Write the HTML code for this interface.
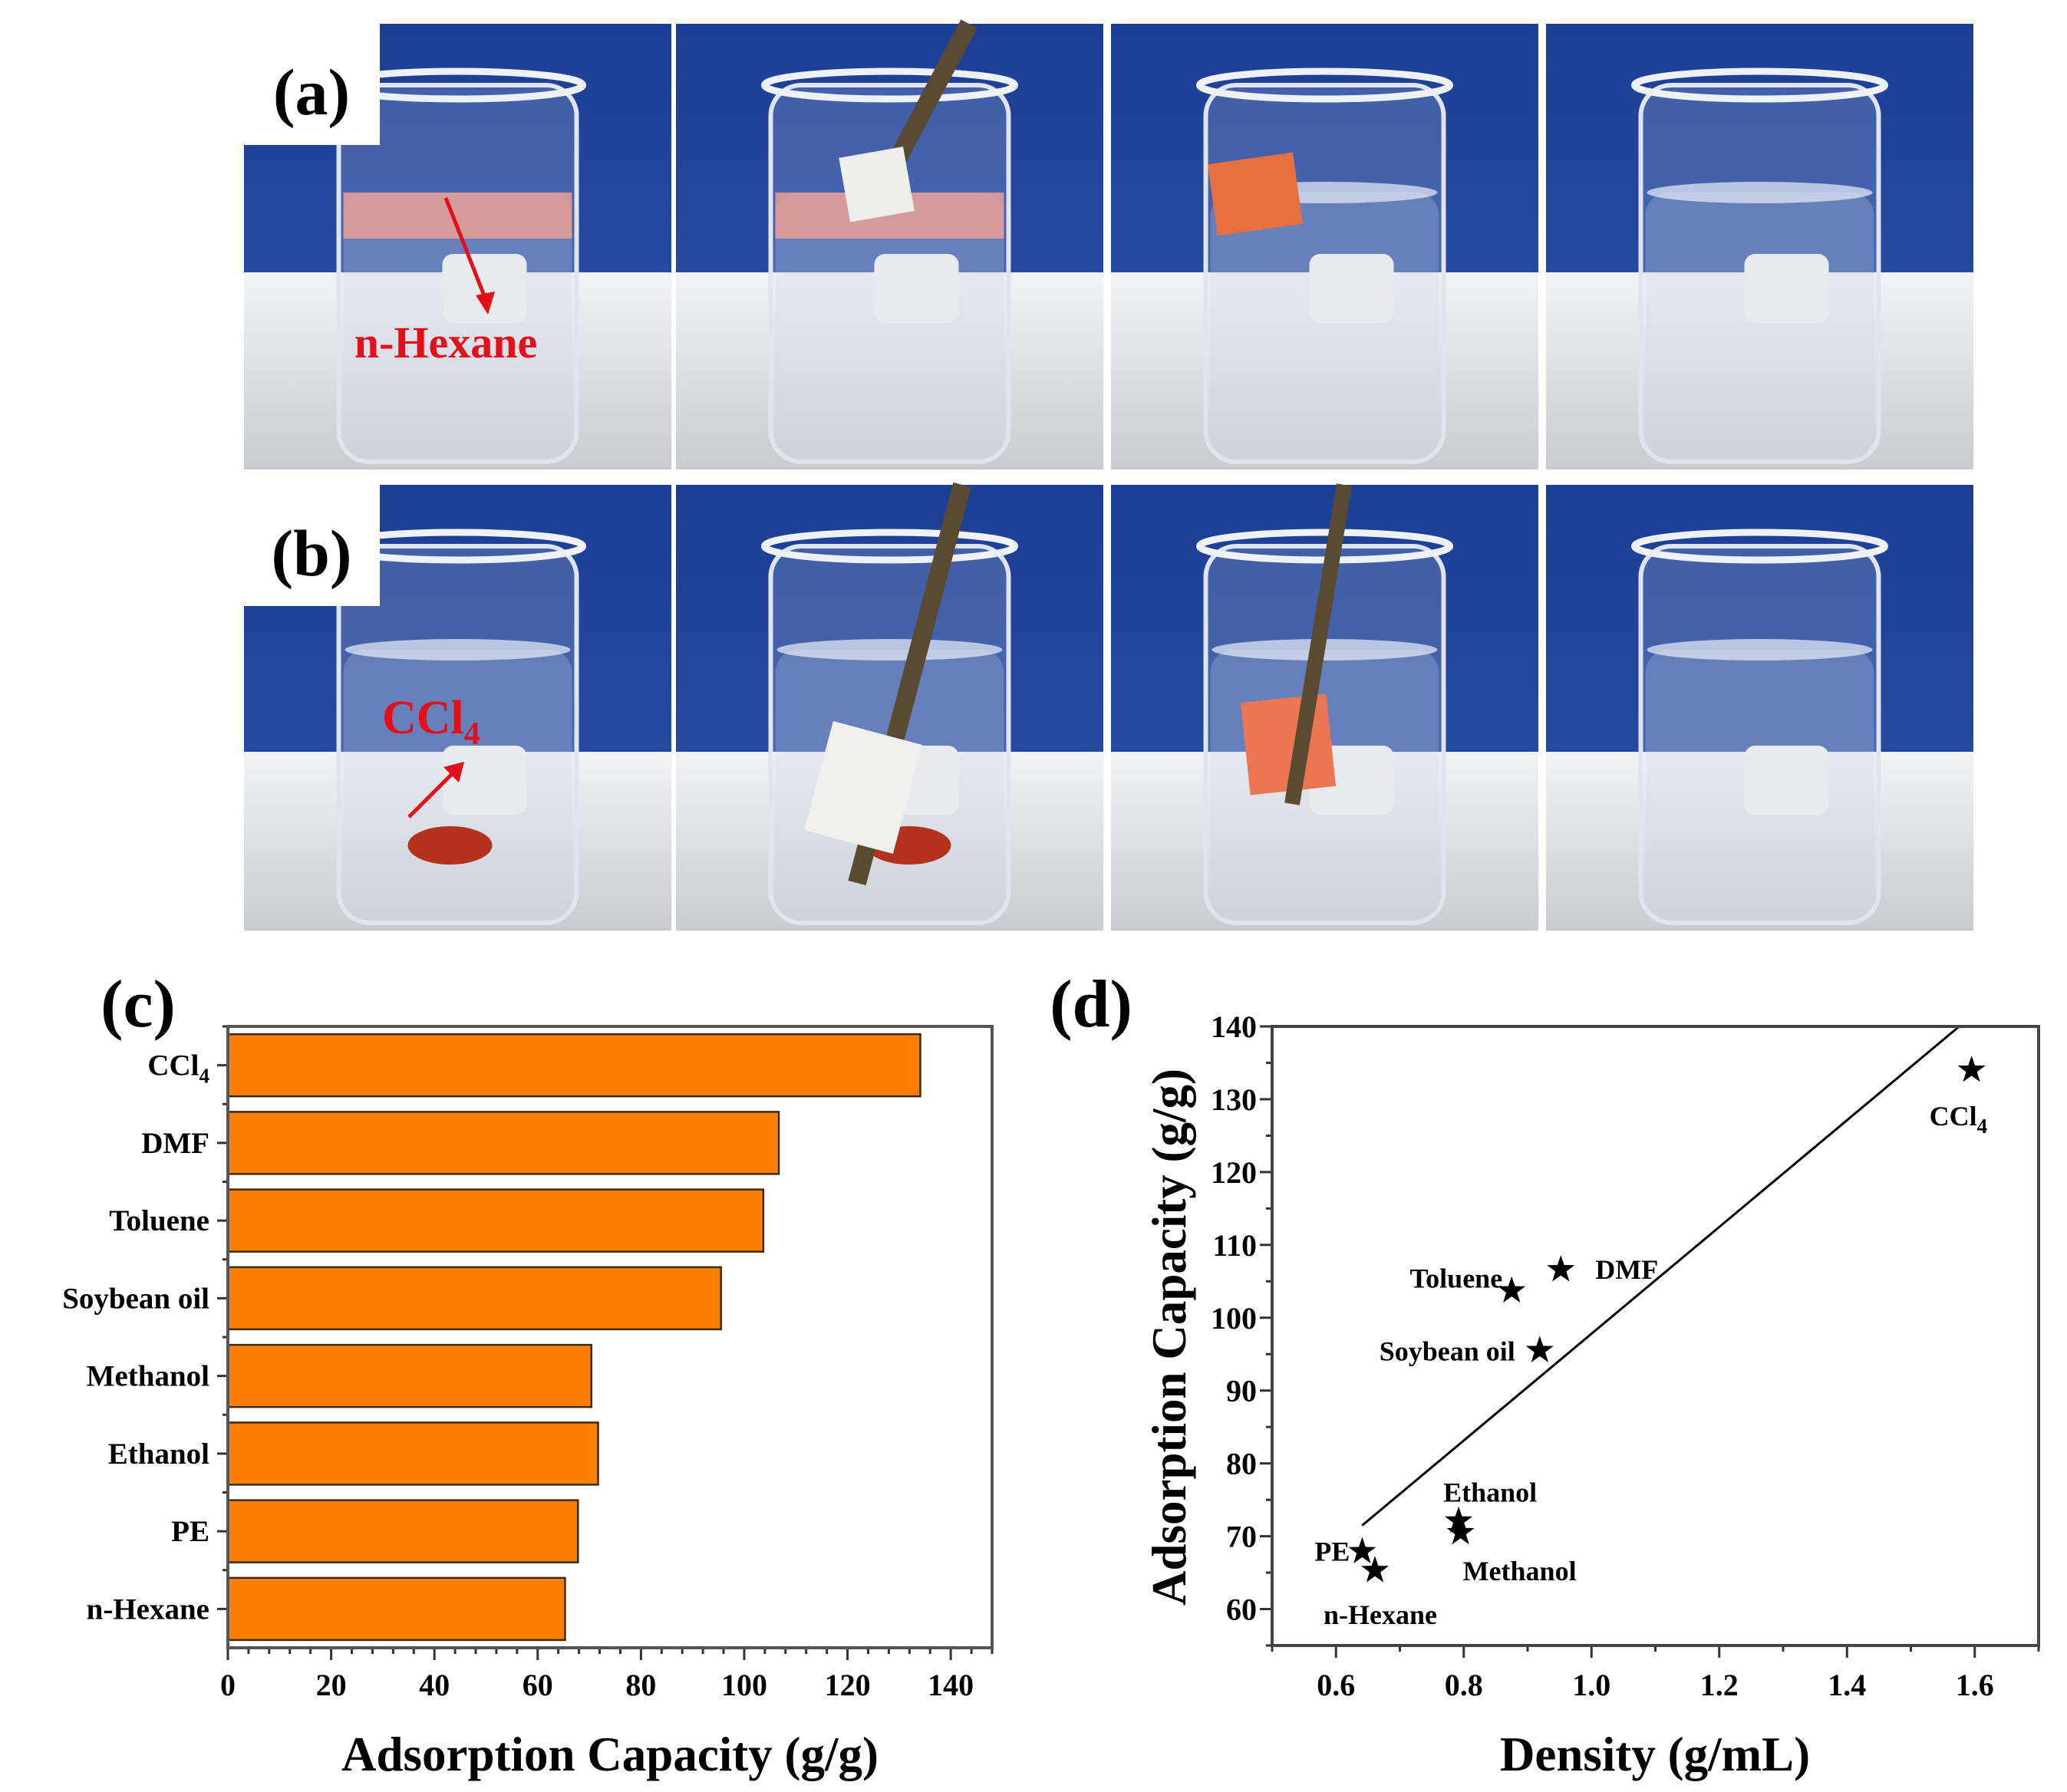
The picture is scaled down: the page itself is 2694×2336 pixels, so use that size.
<!DOCTYPE html>
<html><head><meta charset="utf-8"><style>
html,body{margin:0;padding:0;background:#fff;}
svg{display:block;font-family:"Liberation Serif",serif;}
</style></head><body>
<svg id="fig" width="2694" height="2336" viewBox="0 0 2694 2336" xmlns="http://www.w3.org/2000/svg">
<defs>
<linearGradient id="blueA" x1="0" y1="0" x2="0" y2="1"><stop offset="0" stop-color="#1c3f95"/><stop offset="1" stop-color="#25499e"/></linearGradient>
<linearGradient id="tableA" x1="0" y1="0" x2="0" y2="1"><stop offset="0" stop-color="#f2f3f5"/><stop offset="1" stop-color="#c9cbd0"/></linearGradient>
</defs>
<g id="photos"></g>
<g id="chartC"></g>
<g id="chartD"></g>
</svg>
<script>
// ---- chart (c) data ----
const barCategories = ["CCl4","DMF","Toluene","Soybean oil","Methanol","Ethanol","PE","n-Hexane"];
const barValues = [134.1, 106.7, 103.7, 95.5, 70.4, 71.7, 67.8, 65.3];
const barTicks = [0,20,40,60,80,100,120,140];
// ---- chart (d) data ----
const ptNames = ["CCl4","DMF","Toluene","Soybean oil","Ethanol","Methanol","PE","n-Hexane"];
const ptDensity = [1.595, 0.952, 0.875, 0.919, 0.792, 0.795, 0.641, 0.661];
const ptCapacity = [134.0, 106.6, 103.7, 95.5, 72.1, 70.5, 67.9, 65.3];
const fitX = [0.641, 1.575];
const fitSlope = 73.3;
const fitIntercept = 24.5;
const dXTicks = [0.6,0.8,1.0,1.2,1.4,1.6];
const dYTicks = [60,70,80,90,100,110,120,130,140];

const NS="http://www.w3.org/2000/svg";
function mk(parent,tag,attrs,text){const e=document.createElementNS(NS,tag);for(const k in attrs)e.setAttribute(k,attrs[k]);if(text!==undefined)e.textContent=text;parent.appendChild(e);return e;}

// ---------- photos ----------
const photos=document.getElementById('photos');
const colX=[318,881,1448,2015], colW=557;
const rows=[{y:31,h:581,split:355,label:"(a)"},{y:632,h:581,split:980,label:"(b)"}];
rows.forEach((r,ri)=>{
  colX.forEach((x,ci)=>{
    const g=mk(photos,'g',{});
    
    
    mk(g,'rect',{x:x,y:r.y,width:colW,height:r.split-r.y,fill:'url(#blueA)'});
    mk(g,'rect',{x:x,y:r.split,width:colW,height:r.y+r.h-r.split,fill:'url(#tableA)'});
    const cx=x+colW/2, bt=r.y+80, bb=r.y+r.h-10, bw=310;
    mk(g,'rect',{x:cx-bw/2,y:bt,width:bw,height:bb-bt,rx:40,fill:'rgba(225,232,245,0.18)',stroke:'#dfe4ee','stroke-width':6});
    mk(g,'ellipse',{cx:cx,cy:bt,rx:bw/2+8,ry:18,fill:'none',stroke:'#eef1f6','stroke-width':9});
    const ly=ri?r.y+215:r.y+220;
    const pinkTop=(ri===0&&ci<2);
    mk(g,'rect',{x:cx-bw/2+6,y:ly,width:bw-12,height:bb-ly-6,rx:30,fill:'rgba(200,210,230,0.25)'});
    if(pinkTop) mk(g,'rect',{x:cx-bw/2+6,y:ly,width:bw-12,height:60,fill:'rgba(235,160,150,0.85)'});
    else mk(g,'ellipse',{cx:cx,cy:ly,rx:bw/2-8,ry:14,fill:'rgba(235,240,248,0.7)'});
    mk(g,'rect',{x:cx-20,y:r.y+(ri?340:300),width:110,height:90,rx:14,fill:'#e8eaee'});
    if(ri===1&&ci<2) mk(g,'ellipse',{cx:cx-(ci?15:50)+40,cy:r.y+470,rx:55,ry:25,fill:'#b2321c'});
  });
  const lb=mk(photos,'g',{});
  
  
  mk(lb,'rect',{x:318,y:r.y,width:177,height:158,fill:'#fff'});
  mk(lb,'text',{x:406,y:r.y+118,'font-size':86,'font-weight':'bold','text-anchor':'middle',fill:'#000'},r.label);
});
mk(photos,'line',{x1:1263,y1:31,x2:1134,y2:275,stroke:'#5a4a32','stroke-width':24});
mk(photos,'rect',{x:1100,y:198,width:85,height:85,fill:'#eeeeea',transform:'rotate(-10 1142 240)'});
mk(photos,'rect',{x:1580,y:206,width:112,height:94,fill:'#e8703f',transform:'rotate(-8 1636 253)'});
mk(photos,'line',{x1:1254,y1:632,x2:1117,y2:1151,stroke:'#5a4a32','stroke-width':24});
mk(photos,'rect',{x:1065,y:953,width:120,height:147,fill:'#f0f0ee',transform:'rotate(15 1125 1026)'});
mk(photos,'rect',{x:1623,y:910,width:112,height:121,fill:'#ec7552',transform:'rotate(-6 1679 970)'});
mk(photos,'line',{x1:1752,y1:632,x2:1684,y2:1048,stroke:'#5a4a32','stroke-width':20});
const nh=mk(photos,'text',{x:581,y:466,'font-size':58,'font-weight':'bold','text-anchor':'middle',fill:'#e3101a'},'n-Hexane');


mk(photos,'line',{x1:581,y1:258,x2:636,y2:398,stroke:'#e3101a','stroke-width':5});
mk(photos,'path',{d:'M636 410 L620 385 L645 380 Z',fill:'#e3101a'});
const cc=mk(photos,'text',{x:498,y:956,'font-size':62,'font-weight':'bold',fill:'#e3101a'});


cc.innerHTML='CCl<tspan font-size="42" dy="14">4</tspan>';
mk(photos,'line',{x1:533,y1:1065,x2:596,y2:1002,stroke:'#e3101a','stroke-width':5});
mk(photos,'path',{d:'M605 993 L578 1000 L598 1020 Z',fill:'#e3101a'});

// ---------- chart (c) ----------
(function(){
  const g=document.getElementById('chartC');
  const L=297,R=1293,T=1338,B=2148, xMax=148;
  const xs=v=>L+(v/xMax)*(R-L);
  const band=(B-T)/barCategories.length;
  const yc=i=>T+band*(i+0.5);
  const pl=mk(g,'text',{x:180,y:1338,'font-size':88,'font-weight':'bold','text-anchor':'middle'},'(c)');
  
  
  barCategories.forEach((c,i)=>{
    const b=mk(g,'rect',{x:L,y:yc(i)-band*0.4,width:xs(barValues[i])-L,height:band*0.8,fill:'#ff8000',stroke:'#3a2a10','stroke-width':2.5});
    
    
    mk(g,'line',{x1:L,y1:yc(i),x2:L-14,y2:yc(i),stroke:'#333','stroke-width':3});
    mk(g,'line',{x1:L,y1:T+band*i,x2:L-7,y2:T+band*i,stroke:'#333','stroke-width':3});
    const t=mk(g,'text',{x:L-24,y:yc(i)+13,'font-size':39,'font-weight':'bold','text-anchor':'end'});
    
    
    if(c==='CCl4') t.innerHTML='CCl<tspan font-size="27" dy="10">4</tspan>'; else t.textContent=c;
  });
  for(let v=0;v<=xMax;v+=4){
    const major=v%20===0;
    mk(g,'line',{x1:xs(v),y1:B,x2:xs(v),y2:B+(major?16:8),stroke:'#333','stroke-width':3});
  }
  barTicks.forEach(v=>{
    const t=mk(g,'text',{x:xs(v),y:2210,'font-size':40,'font-weight':'bold','text-anchor':'middle'},String(v));
    
    
  });
  const fr=mk(g,'rect',{x:L,y:T,width:R-L,height:B-T,fill:'none',stroke:'#555','stroke-width':4});
  
  
  const xt=mk(g,'text',{x:795,y:2308,'font-size':63,'font-weight':'bold','text-anchor':'middle'},'Adsorption Capacity (g/g)');
  
  
})();

// ---------- chart (d) ----------
(function(){
  const g=document.getElementById('chartD');
  const L=1658,R=2657,T=1338,B=2145, x0=0.5,x1=1.7,y0=55,y1=140;
  const xs=v=>L+(v-x0)/(x1-x0)*(R-L);
  const ys=v=>B-(v-y0)/(y1-y0)*(B-T);
  const pl=mk(g,'text',{x:1422,y:1338,'font-size':88,'font-weight':'bold','text-anchor':'middle'},'(d)');
  
  
  for(let k=0;k<=12;k++){const v=x0+k*0.1;const major=(k%2===1);
    mk(g,'line',{x1:xs(v),y1:B,x2:xs(v),y2:B+(major?16:8),stroke:'#333','stroke-width':3});}
  for(let v=y0;v<=y1;v+=5){const major=v%10===0;
    mk(g,'line',{x1:L,y1:ys(v),x2:L-(major?16:8),y2:ys(v),stroke:'#333','stroke-width':3});}
  dXTicks.forEach(v=>{
    const t=mk(g,'text',{x:xs(v),y:2210,'font-size':40,'font-weight':'bold','text-anchor':'middle'},v.toFixed(1));
    
    
  });
  dYTicks.forEach(v=>{
    const t=mk(g,'text',{x:L-20,y:ys(v)+14,'font-size':40,'font-weight':'bold','text-anchor':'end'},String(v));
    
    
  });
  const fit=mk(g,'line',{x1:xs(fitX[0]),y1:ys(fitSlope*fitX[0]+fitIntercept),x2:xs(fitX[1]),y2:ys(fitSlope*fitX[1]+fitIntercept),stroke:'#000','stroke-width':3});
  
  
  const offs={"CCl4":[-55,72,'start'],"DMF":[45,12,'start'],"Toluene":[-12,-4,'end'],"Soybean oil":[-32,13,'end'],"Ethanol":[-20,-25,'start'],"Methanol":[3,62,'start'],"PE":[-16,12,'end'],"n-Hexane":[-67,70,'start']};
  ptNames.forEach((n,i)=>{
    const cx=xs(ptDensity[i]), cy=ys(ptCapacity[i]);
    let d='';for(let k=0;k<10;k++){const r=k%2?7.5:19;const a=-Math.PI/2+k*Math.PI/5;d+=(k?'L':'M')+(cx+r*Math.cos(a)).toFixed(1)+' '+(cy+r*Math.sin(a)).toFixed(1);}
    const s=mk(g,'path',{d:d+'Z',fill:'#000'});
    
    
    const o=offs[n];
    const t=mk(g,'text',{x:cx+o[0],y:cy+o[1],'font-size':36,'font-weight':'bold','text-anchor':o[2]});
    
    
    if(n==='CCl4') t.innerHTML='CCl<tspan font-size="27" dy="10">4</tspan>'; else t.textContent=n;
  });
  const fr=mk(g,'rect',{x:L,y:T,width:R-L,height:B-T,fill:'none',stroke:'#444','stroke-width':4});
  
  
  const xt=mk(g,'text',{x:2157,y:2308,'font-size':63,'font-weight':'bold','text-anchor':'middle'},'Density (g/mL)');
  
  
  const yt=mk(g,'text',{x:0,y:0,'font-size':63,'font-weight':'bold','text-anchor':'middle',transform:'translate(1545,1743) rotate(-90)'},'Adsorption Capacity (g/g)');
  
  
})();
</script>
</body></html>
